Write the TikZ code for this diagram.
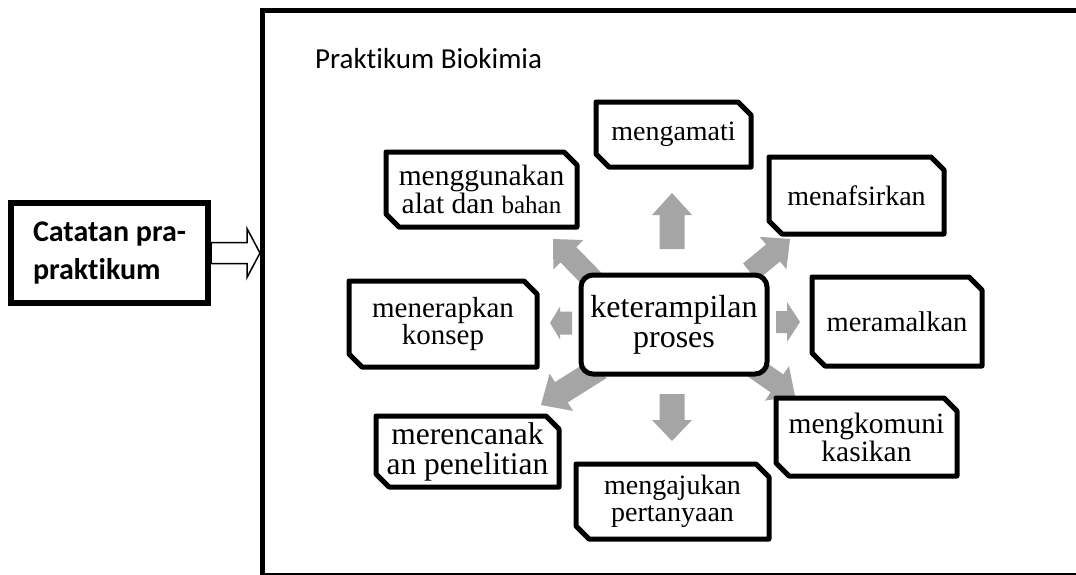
\documentclass[tikz,border=0pt]{standalone}
\usepackage{fontspec}
\setmainfont{Liberation Serif}
\newfontfamily\calibri[Ligatures=NoCommon,RawFeature=-liga]{Carlito}
\usetikzlibrary{calc}
\definecolor{arrowgray}{HTML}{A5A5A5}
\tikzset{
  box/.style={line width=5pt, line join=round},
  sat/.style={inner sep=0pt, outer sep=0pt, align=center},
  grayarrow/.style={fill=arrowgray},
  hollowarrow/.style={draw, line width=1.5pt, fill=white, line join=miter},
}
% name, cx, cy, w, h, size, skip, text
\newcommand\snipnode[8]{%
  \node[sat, minimum width=#4pt, minimum height=#5pt, font=\fontsize{#6}{#7}\selectfont] (#1) at (#2,#3) {#8};
  \draw[box] (#1.north west) -- ([xshift=-13pt]#1.north east) -- ([yshift=-13pt]#1.north east)
    -- (#1.south east) -- ([xshift=13pt]#1.south west) -- ([yshift=13pt]#1.south west) -- cycle;
}
% style, from, to, shaft half width, head half width, head length
\newcommand\blockarrow[6]{%
  \path (#3) coordinate (ba-tip) ($(#3)!#6pt!(#2)$) coordinate (ba-base) (#2) coordinate (ba-start);
  \path[#1] ($(ba-start)!#4pt!90:(ba-tip)$) -- ($(ba-base)!#4pt!90:(ba-tip)$)
    -- ($(ba-base)!#5pt!90:(ba-tip)$) -- (ba-tip) -- ($(ba-base)!#5pt!-90:(ba-tip)$)
    -- ($(ba-base)!#4pt!-90:(ba-tip)$) -- ($(ba-start)!#4pt!-90:(ba-tip)$) -- cycle;
}
\begin{document}
\begin{tikzpicture}[x=1pt,y=-1pt]
\useasboundingbox (0,0) rectangle (1076,574);
\fill[white] (0,0) rectangle (1076,574);

% left box and hollow arrow
\node[draw, line width=6pt, minimum width=197pt, minimum height=100pt, align=left, inner sep=0pt,
      font=\calibri\bfseries\fontsize{30}{38}\selectfont] (cat) at (109.5,253) {Catatan pra-\\praktikum};
\coordinate (cattip) at (260,253);
\blockarrow{hollowarrow}{cat.east}{cattip}{10.5}{24.5}{13}

% frame
\draw[line width=5pt] (262.5,10) rectangle (1090,575.5);
\node[anchor=base west, inner sep=0pt, font=\calibri\fontsize{29}{29}\selectfont] (title) at (315,68) {Praktikum Biokimia};

% arrow coordinates
\coordinate (aus) at (672,249); \coordinate (aue) at (672,193);
\coordinate (ads) at (672,394); \coordinate (ade) at (672,441);
\coordinate (als) at (572,323); \coordinate (ale) at (550,323);
\coordinate (ars) at (776,322); \coordinate (are) at (800,322);
\coordinate (auls) at (598,285); \coordinate (aule) at (553,239);
\coordinate (aurs) at (750,272); \coordinate (aure) at (790,239);
\coordinate (alls) at (600,368); \coordinate (alle) at (541,405);
\coordinate (alrs) at (752,366); \coordinate (alre) at (795,396);

\blockarrow{grayarrow}{aus}{aue}{12.5}{20}{22}
\blockarrow{grayarrow}{ads}{ade}{12.5}{20}{21}
\blockarrow{grayarrow}{als}{ale}{11.5}{16.5}{10}
\blockarrow{grayarrow}{ars}{are}{11}{20}{13}
\blockarrow{grayarrow}{auls}{aule}{11}{21}{22}
\blockarrow{grayarrow}{aurs}{aure}{11}{21}{22}
\blockarrow{grayarrow}{alls}{alle}{12}{22}{24}
\blockarrow{grayarrow}{alrs}{alre}{11}{21}{22}

% center
\node[box, draw, fill=white, rounded corners=12pt, minimum width=186pt, minimum height=99pt, inner sep=0pt,
      outer sep=0pt, align=center, font=\fontsize{32}{30}\selectfont] (center) at (674,324.5) {keterampilan\\proses};

% satellites
\snipnode{amati}{673.5}{134.5}{155}{65}{28}{28}{mengamati}
\snipnode{tafsir}{856.5}{195.5}{175}{77}{28}{28}{menafsirkan}
\snipnode{guna}{481.5}{189.5}{191}{75}{29.5}{28}{menggunakan\\alat dan {\fontsize{25}{28}\selectfont bahan}}
\snipnode{terap}{443}{324}{188}{86}{29}{26}{menerapkan\\konsep}
\snipnode{ramal}{897}{321.5}{170}{89}{28.5}{28}{meramalkan}
\snipnode{rencana}{467.5}{451.5}{183}{71}{31.5}{30}{merencanak\\an penelitian}
\snipnode{aju}{672.5}{501.5}{193}{75}{28}{27}{mengajukan\\pertanyaan}
\snipnode{komuni}{866.5}{437}{181}{78}{29.5}{28}{mengkomuni\\kasikan}
\end{tikzpicture}
\end{document}
